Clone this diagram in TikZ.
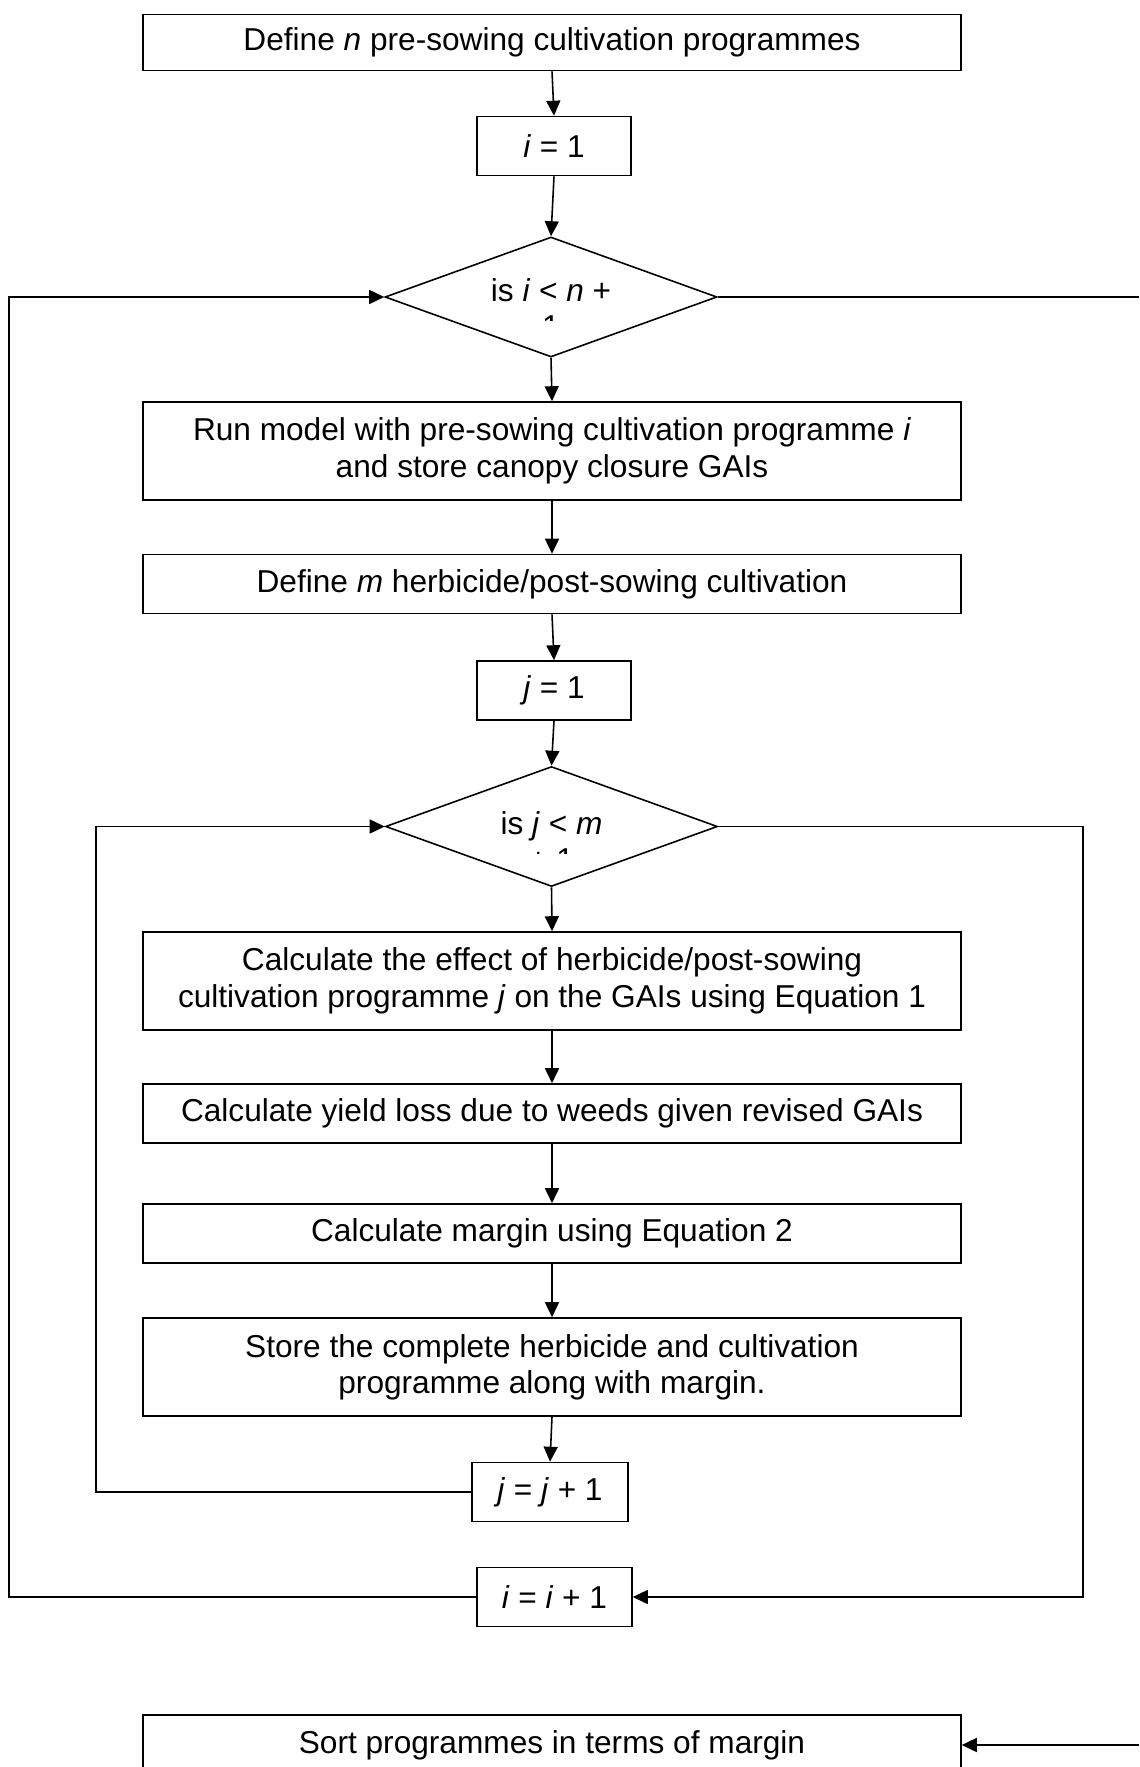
\documentclass[tikz,border=0pt]{standalone}
\usepackage{fontspec}
\setmainfont{Liberation Sans}
\usetikzlibrary{arrows.meta, positioning, shapes.geometric, calc}

\begin{document}
\begin{tikzpicture}[
  font=\fontsize{18}{20.7}\selectfont,
  >={Triangle[length=3mm, width=2.8mm]},
  box/.style={draw, line width=0.9pt, align=center, inner sep=0pt,
              minimum width=16.36cm, minimum height=1.18cm},
  tall/.style={box, minimum height=1.96cm},
  counter/.style={box, minimum width=3.08cm},
  decision/.style={diamond, draw, line width=0.9pt, inner sep=0pt,
                   minimum width=6.64cm, minimum height=2.40cm},
  query/.style={align=center, inner sep=0pt, anchor=north},
  flow/.style={->, line width=0.9pt},
  plain/.style={line width=0.9pt},
]
\useasboundingbox (0,0) rectangle (22.78,-35.34);

% ---------------------------- outer loop over i ---------------------------
\node[box, minimum height=1.12cm] (defn) at (11.04,-0.85)
  {Define \textit{n} pre-sowing cultivation programmes};

\node[counter] (ione) at (11.08,-2.92) {\textit{i} = 1};

\node[decision] (testi) at (11.02,-5.94) {};

\node[tall] (runmodel) at (11.04,-9.02)
  {Run model with pre-sowing cultivation programme \textit{i}\\
   and store canopy closure GAIs};

\node[box] (defm) at (11.04,-11.68)
  {Define \textit{m} herbicide/post-sowing cultivation};

% ---------------------------- inner loop over j ---------------------------
\node[counter] (jone) at (11.08,-13.81) {\textit{j} = 1};

\node[decision] (testj) at (11.03,-16.53) {};

\node[tall] (effect) at (11.04,-19.62)
  {Calculate the effect of herbicide/post-sowing\\
   cultivation programme \textit{j} on the GAIs using Equation 1};

\node[box] (yield) at (11.04,-22.27)
  {Calculate yield loss due to weeds given revised GAIs};

\node[box] (margin) at (11.04,-24.67)
  {Calculate margin using Equation 2};

\node[tall] (store) at (11.04,-27.34)
  {Store the complete herbicide and cultivation\\
   programme along with margin.};

\node[counter, minimum width=3.12cm] (jinc) at (11.00,-29.84) {\textit{j} = \textit{j} + 1};

\node[counter, minimum width=3.10cm] (iinc) at (11.09,-31.94) {\textit{i} = \textit{i} + 1};

% ---------------------------- the end -------------------------------------
\node[box, minimum height=1.20cm] (sort) at (11.04,-34.90)
  {Sort programmes in terms of margin};

% the questions sit in text boxes too small for them: the second line is cut
\begin{scope}
  \clip (9.0,-5.0) rectangle (13.0,-6.42);
  \node[query] (testitext) at (11.02,-5.56) {is \textit{i} < \textit{n} +\\1};
\end{scope}
\begin{scope}
  \clip (9.0,-15.8) rectangle (13.0,-17.06);
  \node[query] (testjtext) at (11.03,-16.22) {is \textit{j} < \textit{m}\\+ 1};
\end{scope}

% ---------------------------- flow ----------------------------------------
\draw[flow] (defn.south)     -- (ione.north);
\draw[flow] (ione.south)     -- (testi.north);
\draw[flow] (testi.south)    -- (runmodel.north);
\draw[flow] (runmodel.south) -- (defm.north);
\draw[flow] (defm.south)     -- (jone.north);
\draw[flow] (jone.south)     -- (testj.north);
\draw[flow] (testj.south)    -- (effect.north);
\draw[flow] (effect.south)   -- (yield.north);
\draw[flow] (yield.south)    -- (margin.north);
\draw[flow] (margin.south)   -- (store.north);
\draw[flow] (store.south)    -- (jinc.north);

% loop returns run down the margins
\coordinate (outerL) at (0.18,0);
\coordinate (innerL) at (1.92,0);
\coordinate (innerR) at (21.66,0);

\draw[flow] (jinc.west) -- (jinc.west -| innerL) |- (testj.west);
\draw[flow] (testj.east) -- (testj.east -| innerR) |- (iinc.east);
\draw[flow] (iinc.west) -- (iinc.west -| outerL) |- (testi.west);

% the exit leaves the page on the right and comes back in at the bottom
\coordinate (offright) at (22.78,-5.94);
\coordinate (fromright) at (22.78,-34.90);
\draw[plain] (testi.east) -- (offright);
\draw[flow] (fromright) -- (sort.east);

\end{tikzpicture}
\end{document}
